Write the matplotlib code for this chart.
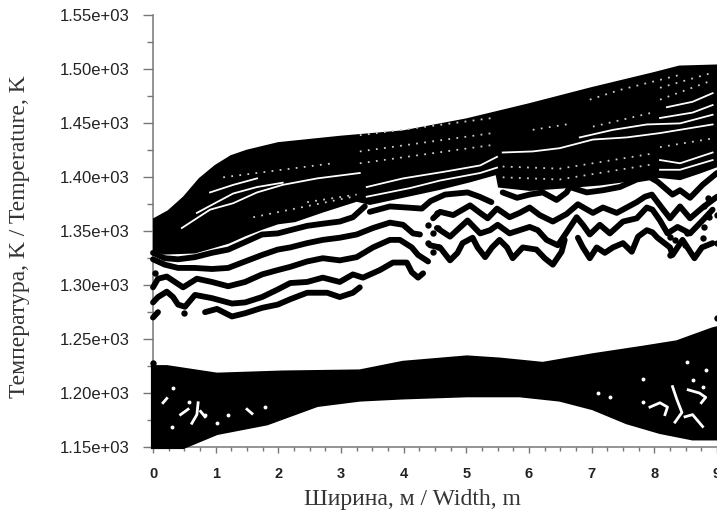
import numpy as np
import matplotlib
matplotlib.use('Agg')
import matplotlib.pyplot as plt
from matplotlib.ticker import MultipleLocator, FormatStrFormatter

nan = float('nan')

# Верхняя область / upper solid band
top_x = [0, .25, .5, .75, 1, 1.25, 1.5, 2, 3, 4, 5, 6, 7, 8, 8.4, 9]
top_hi = [1360, 1368, 1381, 1398, 1410, 1419, 1424, 1431, 1437, 1442, 1453, 1467, 1482, 1496, 1502, 1503]
low_x = [0, .19, .67, 1.20, 1.47, 1.74, 1.99, 2.26, 2.71, 3.25, 3.46, 4.10, 4.58, 5.06, 5.49, 5.53, 6.01, 6.49, 7.13, 7.77, 8.09, 8.41, 8.72, 9]
low_t = [1333, 1330, 1331, 1340, 1347, 1353, 1358, 1360, 1369, 1379, 1376, 1384, 1390, 1397, 1404, 1392, 1389, 1391, 1394, 1399, 1401, 1399, 1405, 1411]

# Нижняя область / lower solid band
cold_top_x = [0, .22, 1.02, 2.07, 3.30, 3.99, 5.01, 5.53, 6.22, 7.02, 7.82, 8.36, 8.93, 9]
cold_top_t = [1224, 1224, 1217, 1219, 1220, 1228, 1233, 1231, 1227, 1235, 1242, 1247, 1259, 1260]
cold_low_x = [0, .48, 1.02, 1.82, 2.62, 3.30, 3.99, 5.01, 5.85, 6.49, 7.02, 7.56, 8.09, 8.61, 9]
cold_low_t = [1150, 1150, 1163, 1172, 1189, 1194, 1196, 1198, 1198, 1194, 1186, 1173, 1164, 1158, 1158]

# Изолинии / isolated contour lines
a_x = [0, .19, .40, .67, .94, 1.20, 1.47, 1.74, 1.99, 2.19, 2.46, 2.71, 2.98, 3.19, 3.38]
a_t = [1330, 1325, 1324, 1326, 1330, 1333, 1340, 1347, 1348, 1351, 1355, 1357, 1359, 1363, 1373]
a2_x = [3.46, 3.78, 4.05, 4.29, 4.43, 4.66, 5.02, 5.21, 5.40]
a2_t = [1368, 1373, 1372, 1371, 1378, 1384, 1386, 1382, 1377]
a3_x = [5.58, 5.81, 6.01, 6.22, 6.44, 6.60, 6.65, 6.92, 7.18, 7.45, 7.72, 7.93, 8.05, 8.17, 8.29, 8.41, 8.57, 8.77, 9.0]
a3_t = [1386, 1381, 1384, 1386, 1379, 1386, 1391, 1386, 1388, 1391, 1398, 1400, 1396, 1390, 1384, 1388, 1381, 1393, 1404]
b_x = [0, .19, .40, .67, .94, 1.20, 1.47, 1.74, 1.99, 2.19, 2.46, 2.71, 2.98, 3.25, 3.51, 3.78, 3.99, 4.15, 4.26, nan,
       4.47, 4.58, 4.79, 5.06, 5.22, 5.34, 5.49, 5.69, 5.85, 6.01, 6.17, 6.38, 6.60, 6.78, 7.02, 7.18, 7.40, 7.72, 7.85, 7.96, 8.09, 8.25, 8.41, 8.57, 8.77, 9.0]
b_t = [1324, 1319, 1316, 1316, 1315, 1316, 1322, 1328, 1333, 1335, 1339, 1342, 1344, 1347, 1353, 1358, 1356, 1348, 1347, nan,
       1362, 1368, 1365, 1374, 1367, 1362, 1371, 1363, 1367, 1372, 1365, 1359, 1366, 1375, 1367, 1372, 1367, 1377, 1382, 1384, 1374, 1362, 1373, 1362, 1372, 1382]
c_x = [0, .08, .22, .35, .48, .70, .94, 1.20, 1.47, 1.74, 1.99, 2.19, 2.46, 2.71, 2.98, 3.25, 3.51, 3.78, 3.94, 4.13, 4.23, 4.39, nan,
       4.53, 4.74, 5.02, 5.22, 5.38, 5.50, 5.69, 5.85, 6.01, 6.14, 6.28, 6.46, 6.60, 6.76, 6.86, 6.97, 7.13, 7.29, 7.50, 7.72, 7.88, 7.97, 8.09, 8.21, 8.37, 8.57, 8.77, 8.93]
c_t = [1298, 1306, 1308, 1303, 1298, 1306, 1303, 1299, 1303, 1310, 1314, 1317, 1322, 1325, 1323, 1326, 1335, 1342, 1342, 1335, 1328, 1322, nan,
       1353, 1345, 1360, 1348, 1351, 1356, 1348, 1351, 1354, 1351, 1342, 1337, 1349, 1363, 1356, 1347, 1356, 1348, 1359, 1362, 1372, 1370, 1360, 1348, 1354, 1348, 1360, 1370]
d_x = [0, .08, .22, .32, .40, .51, .67, .94, 1.26, 1.47, 1.74, 1.99, 2.19, 2.46, 2.71, 2.98, 3.19, 3.35, 3.62, 3.83, 4.05, 4.13, 4.23, 4.31, nan,
       4.42, 4.58, 4.74, 4.86, 4.94, 5.10, 5.18, 5.30, 5.41, 5.53, 5.65, 5.74, 5.90, 6.12, 6.25, 6.38, 6.52, 6.57, nan,
       6.78, 6.86, 6.97, 7.08, 7.21, 7.34, 7.50, 7.64, 7.74, 7.88, 7.97, 8.05, 8.25, 8.29, 8.45, 8.64, 8.76, 8.93]
d_t = [1284, 1289, 1294, 1289, 1282, 1280, 1291, 1288, 1283, 1284, 1289, 1296, 1302, 1303, 1307, 1303, 1310, 1307, 1314, 1321, 1321, 1312, 1307, 1311, nan,
       1337, 1335, 1323, 1330, 1339, 1344, 1335, 1326, 1335, 1342, 1335, 1325, 1335, 1333, 1325, 1319, 1331, 1342, nan,
       1344, 1335, 1325, 1335, 1330, 1335, 1339, 1331, 1345, 1351, 1349, 1344, 1335, 1328, 1342, 1325, 1335, 1339]
e_x = [0, .08, nan, .83, 1.02, 1.26, 1.47, 1.74, 1.99, 2.19, 2.46, 2.78, 2.98, 3.19, 3.30]
e_t = [1270, 1275, nan, 1275, 1278, 1271, 1274, 1279, 1282, 1287, 1293, 1293, 1289, 1293, 1298]

# Отдельные точки / stray points
dots_x = [0, 9.0, .03, .49, 4.39, 4.53, 4.39, 4.47, 4.55, 4.47, 4.55, 8.25, 8.33, 8.52, 8.80, 8.85, 8.88, 8.80, 8.49, 8.25, 8.77, 9.0, 9.0]
dots_t = [1228, 1270, 1311, 1274, 1356, 1367, 1339, 1348, 1353, 1331, 1335, 1345, 1342, 1348, 1373, 1381, 1363, 1354, 1337, 1328, 1344, 1339, 1365]

# Белые просветы внутри полосы / white gaps in the band
gaps = [
    ([.91, 1.28, 1.66], [1386, 1393, 1399]),
    ([.70, 1.02, 1.28, 1.66, 2.07], [1367, 1377, 1385, 1391, 1395]),
    ([.46, .91, 1.28, 1.66, 2.07, 2.62, 3.30], [1353, 1370, 1376, 1386, 1393, 1399, 1404]),
    ([5.58, 6.06, 6.49, 7.02, 7.56, 8.09, 8.93], [1423, 1424, 1427, 1435, 1437, 1441, 1449]),
    ([6.81, 7.34, 7.88, 8.41, 8.93], [1437, 1444, 1449, 1450, 1458]),
    ([8.09, 8.61, 8.93], [1455, 1460, 1467]),
    ([8.20, 8.61, 8.93], [1465, 1470, 1478]),
    ([8.09, 8.41, 8.93], [1416, 1413, 1423]),
    ([8.09, 8.41, 8.93], [1407, 1407, 1416]),
    ([3.41, 3.99, 4.63, 5.22, 5.49], [1391, 1399, 1405, 1411, 1419]),
    ([3.41, 4.10, 4.58, 5.22, 5.49], [1382, 1390, 1397, 1404, 1409]),
]
speckle = [
    ([3.30, 5.42], [1439, 1455]),
    ([3.30, 5.42], [1424, 1441]),
    ([3.30, 5.42], [1413, 1430]),
    ([1.12, 2.87], [1400, 1413]),
    ([1.60, 3.19], [1363, 1382]),
    ([2.46, 3.25], [1377, 1384]),
    ([6.06, 6.70], [1444, 1450]),
    ([6.97, 7.45, 8.41], [1472, 1481, 1495]),
    ([8.09, 8.93], [1472, 1490]),
    ([8.09, 8.93], [1483, 1497]),
    ([5.58, 6.49, 7.97], [1400, 1398, 1412]),
    ([5.58, 6.49, 7.97], [1410, 1408, 1422]),
    ([7.02, 7.97], [1447, 1460]),
    ([8.09, 8.93], [1428, 1436]),
]

# Дыры в нижней полосе / holes in the lower band
holes_x = [.32, .83, 1.20, 1.79, 7.29, 7.10, 7.82, 8.61, 7.82, 8.52, 8.82, 8.77, 1.02, .58, .30]
holes_t = [1205, 1180, 1180, 1187, 1196, 1200, 1192, 1212, 1213, 1229, 1221, 1206, 1172, 1192, 1169]
loop_x = [.16, .22, nan, .44, .56, nan, .62, .70, .72, nan, .76, .83, nan, 1.50, 1.58, nan,
          7.93, 8.09, 8.21, 8.17, nan, 8.29, 8.36, 8.44, 8.33, nan, 8.49, 8.61, 8.77, nan, 8.54, 8.72, 8.82, 8.75]
loop_t = [1191, 1195, nan, 1180, 1185, nan, 1172, 1180, 1191, nan, 1183, 1178, nan, 1185, 1181, nan,
          1187, 1191, 1187, 1180, nan, 1206, 1194, 1182, 1173, nan, 1178, 1180, 1169, nan, 1203, 1200, 1196, 1191]

fig = plt.figure(figsize=(7.17, 5.17), dpi=100)
ax = fig.add_axes([153 / 717, 1 - 447 / 517, 564 / 717, 431.5 / 517])

ax.fill(top_x + low_x[::-1], top_hi + low_t[::-1], color='black', lw=2.5, zorder=2)
ax.fill(cold_top_x + cold_low_x[::-1], cold_top_t + cold_low_t[::-1], color='black', lw=3, zorder=2, clip_on=False)

for x, t in [(a_x, a_t), (a2_x, a2_t), (a3_x, a3_t), (b_x, b_t), (c_x, c_t), (d_x, d_t), (e_x, e_t)]:
    ax.plot(x, t, '-', color='black', lw=4.2, solid_capstyle='round', solid_joinstyle='round', zorder=3, clip_on=False)
ax.plot(dots_x, dots_t, 'o', color='black', ms=4.6, mew=0, ls='none', zorder=3, clip_on=False)

for x, t in gaps:
    ax.plot(x, t, color='white', lw=1.3, zorder=4)
for x, t in speckle:
    ax.plot(x, t, color='#cccccc', lw=1.3, ls=(0, (1, 3.5)), zorder=4)
ax.plot(holes_x, holes_t, 'o', color='white', ms=2.8, mew=0, ls='none', zorder=4)
ax.plot(loop_x, loop_t, color='white', lw=2, zorder=4)

ax.set_xlim(0, 9)
ax.set_ylim(1150, 1550)
ax.xaxis.set_major_locator(MultipleLocator(1))
ax.xaxis.set_minor_locator(MultipleLocator(.25))
ax.yaxis.set_major_locator(MultipleLocator(50))
ax.yaxis.set_minor_locator(MultipleLocator(25))
ax.yaxis.set_major_formatter(FormatStrFormatter('%.2e'))

for s in ['top', 'right']:
    ax.spines[s].set_visible(False)
for s in ['left', 'bottom']:
    ax.spines[s].set_color('#777777')
    ax.spines[s].set_linewidth(1.1)
    ax.spines[s].set_zorder(1)

ax.tick_params(axis='y', which='major', length=7, width=1, color='#777777', pad=10)
ax.tick_params(axis='y', which='minor', length=4, width=1, color='#777777')
ax.tick_params(axis='x', which='major', length=4.5, width=1, color='#777777', pad=10)
ax.tick_params(axis='x', which='minor', length=3, width=1, color='#777777')

for lab in ax.get_yticklabels():
    lab.set_family('Liberation Sans')
    lab.set_fontsize(12)
    lab.set_color('#222222')
for lab in ax.get_xticklabels():
    lab.set_family('Liberation Sans')
    lab.set_fontsize(10.5)
    lab.set_fontweight('bold')
    lab.set_color('#222222')

fig.text(412 / 717, 1 - 500 / 517, 'Ширина, м / Width, m', family='Liberation Serif', fontsize=17,
         color='#333333', ha='center', va='center')
fig.text(20 / 717, 1 - 237 / 517, 'Температура, K / Temperature, K', family='Liberation Serif', fontsize=17,
         color='#333333', ha='center', va='center', rotation=90)

fig.savefig('out.png', dpi=100)
